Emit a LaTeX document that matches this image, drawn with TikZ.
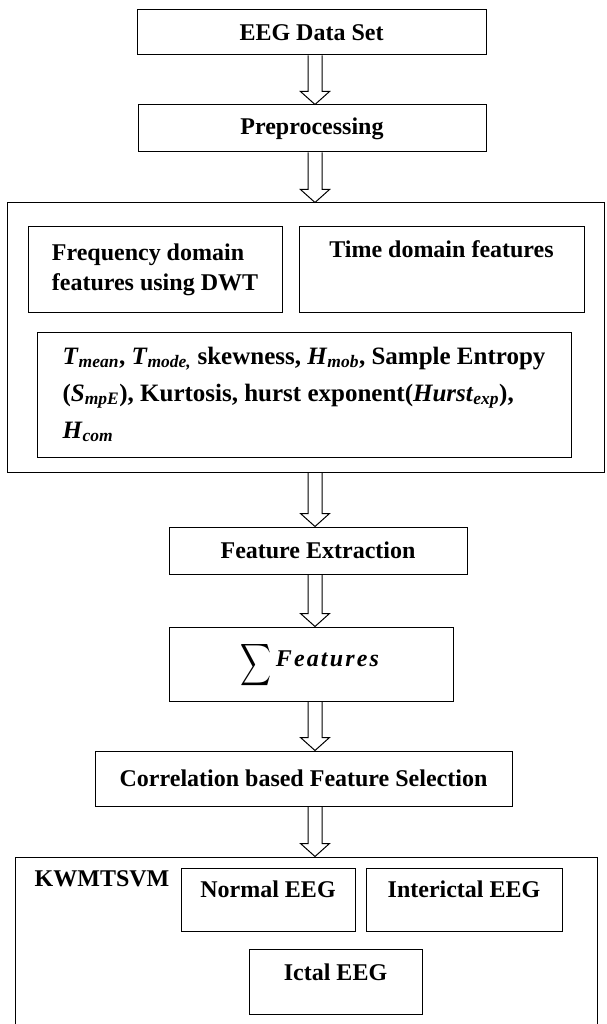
\documentclass[tikz,border=0pt]{standalone}
\usepackage{fontspec}
\usepackage{graphicx}
\setmainfont{Liberation Serif}
\usetikzlibrary{positioning,calc}

% bold italic symbol with bold italic subscript
\newcommand{\fvar}[2]{\textbf{\textit{#1}}\textsubscript{\textbf{\textit{#2}}}}

\begin{document}
\begin{tikzpicture}[
        x=1pt, y=-1pt,
        % Frame style for all boxes
        box/.style={
            draw, line width=1pt,
            inner sep=0pt,
            font=\bfseries\fontsize{24}{30}\selectfont
        },
        % Plain text placed inside a box
        txt/.style={
            inner sep=0pt,
            font=\bfseries\fontsize{24}{30}\selectfont
        },
        % Hollow block arrow between two boxes
        blockarrow/.style={
            line width=1pt,
            to path={let \p1=(\tikztostart), \p2=(\tikztotarget) in
                (\x1-7pt,\y1) -- (\x1-7pt,\y2+13pt) -- (\x1-14.5pt,\y2+13pt)
                -- (\x2,\y2) -- (\x1+14.5pt,\y2+13pt) -- (\x1+7pt,\y2+13pt)
                -- (\x1+7pt,\y1)}
        }
    ]

        \useasboundingbox (0,0) rectangle (606,1024);
        \clip (0,0) rectangle (606,1024);

        % Axis of the arrows
        \coordinate (ax) at (315,0);

        % Upper part
        \node[box, minimum width=349pt, minimum height=45pt] (data) at (311.5,32.5) {EEG Data Set};
        \node[box, minimum width=348pt, minimum height=47pt] (prep) at (312,128.5) {Preprocessing};

        % Feature block
        \node[box, minimum width=597pt, minimum height=269pt] (feat) at (305.5,337.5) {};
        \node[box, minimum width=254pt, minimum height=85pt, align=left] (freq) at (155,269.5) {Frequency domain\\features using DWT};
        \node[box, minimum width=285pt, minimum height=85pt] (time) at (441.5,269.5) {};
        \node[txt, below=14pt of time.north] (timetxt) {Time domain features};
        \node[box, minimum width=534pt, minimum height=125pt, align=left,
              font=\bfseries\fontsize{25}{37}\selectfont] (vars) at (304,394.5)
            {\fvar{T}{mean}, \fvar{T}{mode,} skewness, \fvar{H}{mob}, Sample Entropy\\
             (\fvar{S}{mpE}), Kurtosis, hurst exponent(\fvar{Hurst}{exp}),\\
             \fvar{H}{com}};

        % Middle part
        \node[box, minimum width=298pt, minimum height=47pt] (fe) at (318,550.5) {Feature Extraction};
        \node[box, minimum width=284pt, minimum height=74pt] (sum) at (311,664) {};
        \node[txt, anchor=base] (sumtxt) at ([yshift=-2pt]sum.center)
            {\raisebox{-17pt}{\resizebox*{31pt}{47pt}{$\displaystyle\sum$}}\,{\addfontfeature{LetterSpace=9}\textit{Features}}};
        \node[box, minimum width=417pt, minimum height=55pt] (cfs) at (303.5,778.5) {Correlation based Feature Selection};

        % Classifier block
        \node[box, minimum width=582pt, minimum height=172pt] (kw) at (306,943) {};
        \node[txt, anchor=north west] (kwtxt) at ([shift={(20pt,-14pt)}]kw.north west) {KWMTSVM};
        \node[box, minimum width=174pt, minimum height=63pt] (normal) at (268,899.5) {};
        \node[txt, below=13pt of normal.north] (normaltxt) {Normal EEG};
        \node[box, minimum width=196pt, minimum height=63pt] (inter) at (464,899.5) {};
        \node[txt, below=13pt of inter.north] (intertxt) {Interictal EEG};
        \node[box, minimum width=173pt, minimum height=65pt] (ictal) at (335.5,981.5) {};
        \node[txt, below=15pt of ictal.north] (ictaltxt) {Ictal EEG};

        % Arrows
        \draw[blockarrow] (data.south -| ax) to (prep.north -| ax);
        \draw[blockarrow] (prep.south -| ax) to (feat.north -| ax);
        \draw[blockarrow] (feat.south -| ax) to (fe.north -| ax);
        \draw[blockarrow] (fe.south -| ax) to (sum.north -| ax);
        \draw[blockarrow] (sum.south -| ax) to (cfs.north -| ax);
        \draw[blockarrow] (cfs.south -| ax) to (kw.north -| ax);

    \end{tikzpicture}
\end{document}
